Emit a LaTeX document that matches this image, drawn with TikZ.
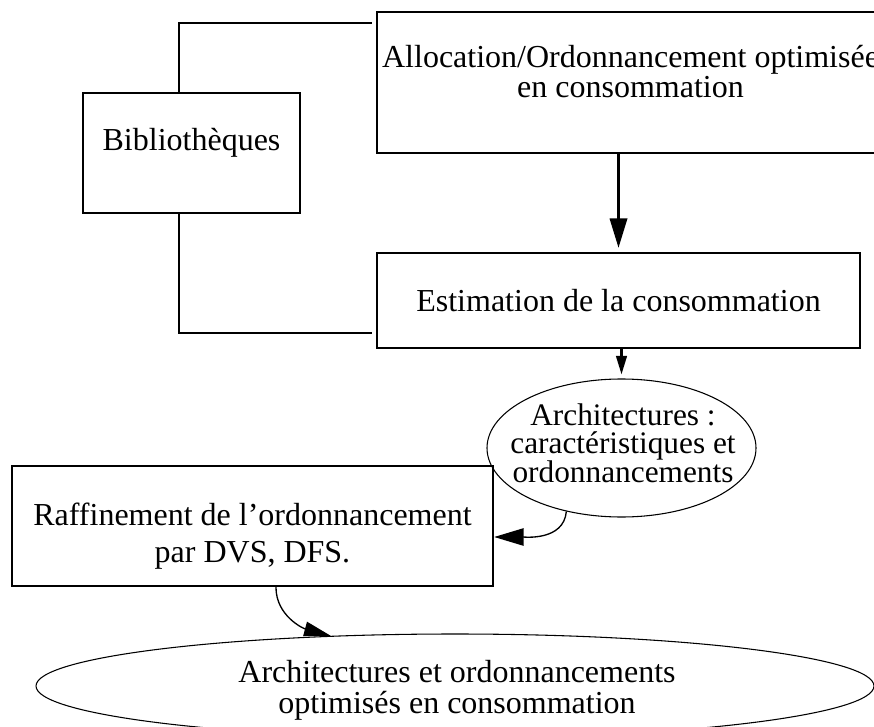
\documentclass[tikz,border=0pt]{standalone}
\usepackage{fontspec}
\setmainfont{Liberation Serif}
\usetikzlibrary{shapes.geometric}
\usetikzlibrary{arrows.meta}

\tikzset{
  box/.style={draw,line width=1.8pt,inner sep=0pt},
  libbox/.style={draw,line width=1pt,inner sep=0pt},
  oval/.style={draw,ellipse,line width=0.8pt,inner sep=0pt},
  txt/.style={align=center,inner sep=0pt},
  link/.style={line width=1pt},
  bigtip/.style={-{Triangle[length=22pt,width=13pt]}},
  smalltip/.style={-{Triangle[length=14pt,width=8pt]}},
}

\begin{document}
\begin{tikzpicture}[x=0.75pt,y=-0.75pt,font=\fontsize{24}{22.5}\selectfont]
\clip (0,0) rectangle (874,727);

% boxes
\node[box,minimum width=380.25pt,minimum height=105.75pt] (alloc) at (630.5,82.5) {};
\node[libbox,minimum width=162.75pt,minimum height=90pt] (bib) at (191.5,153) {};
\node[box,minimum width=362.25pt,minimum height=71.25pt] (estim) at (618.5,300.5) {};
\node[box,minimum width=360.75pt,minimum height=90pt] (raff) at (252.5,526) {};
\node[oval,minimum width=201.75pt,minimum height=103.5pt] (arch) at (621.5,448) {};
\node[oval,minimum width=628.5pt,minimum height=78pt] (opt) at (455,686) {};

% texts
\node[txt] (alloctxt) at (630.5,72) {Allocation/Ordonnancement optimisée\\en consommation};
\node[txt] (bibtxt) at (191.5,142.5) {Bibliothèques};
\node[txt] (estimtxt) at (618.5,301) {Estimation de la consommation};
\node[txt,font=\fontsize{24}{27.75}\selectfont] (rafftxt) at (252.5,536) {Raffinement de l’ordonnancement\\par DVS, DFS.};
\node[txt,font=\fontsize{23.5}{21.5}\selectfont] (archtxt) at (623,443) {Architectures :\\caractéristiques et\\ordonnancements};
\node[txt,font=\fontsize{24}{23.25}\selectfont] (opttxt) at (457,690) {Architectures et ordonnancements\\optimisés en consommation};

% library bracket
\coordinate (brtop) at (179,23);
\coordinate (brbot) at (179,333);
\draw[link,shorten >=3pt] (bib.north -| brtop) -- (brtop) -- (brtop -| alloc.west);
\draw[link,shorten >=3pt] (bib.south -| brtop) -- (brbot) -- (brbot -| estim.west);

\draw[line width=1.8pt,bigtip,shorten >=3pt] (estim.north |- alloc.south) -- (estim.north);
\draw[line width=1.8pt,smalltip,shorten >=3pt] (arch.north |- estim.south) -- (arch.north);
\draw[link,bigtip] (arch.229) to[out=-95,in=0] ([yshift=-8.25pt]raff.east);
\draw[link,-{Triangle[length=20pt,width=11pt]}] ([xshift=17.6pt]raff.south) to[out=-90,in=165] (opt.158);
\end{tikzpicture}
\end{document}
